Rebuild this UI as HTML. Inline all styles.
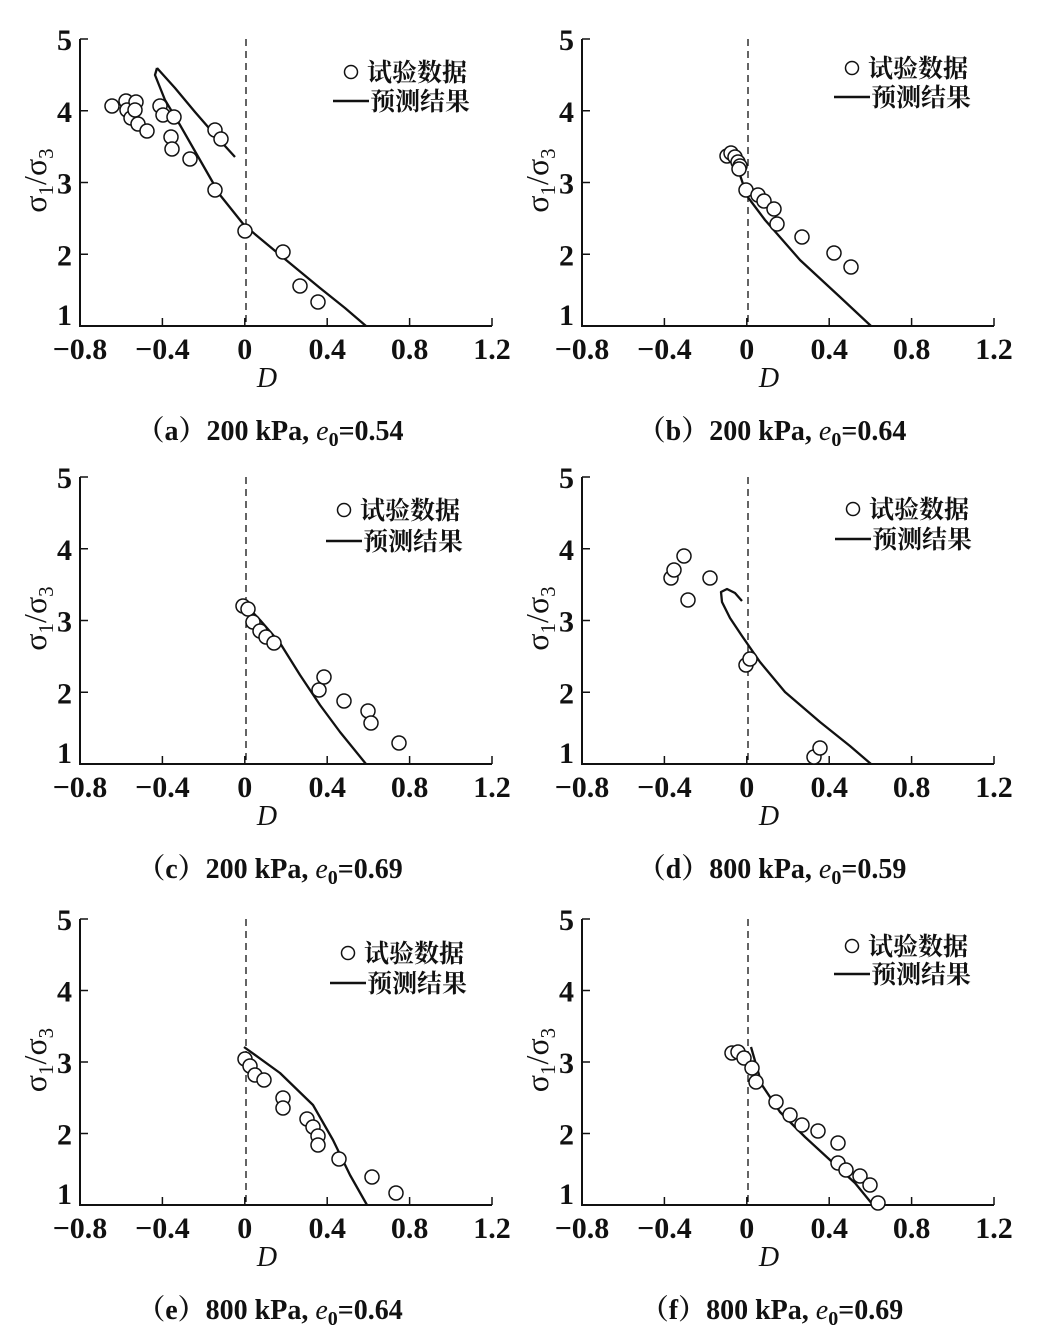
<!DOCTYPE html>
<html><head><meta charset="utf-8"><style>
html,body{margin:0;padding:0;background:#fff;}
svg{display:block}
text{font-family:"Liberation Serif","Noto Serif CJK SC",serif;fill:#111}
</style></head><body>
<svg id="s" width="1038" height="1334" viewBox="0 0 1038 1334" xmlns="http://www.w3.org/2000/svg"></svg>
<script>
const S=document.getElementById('s');let h='';
const P=[
 {L:80,T:39,B:326,cap:'a',capt:'200 kPa, ',e:'0.54',
  pts:[[112,106],[126,101],[127,110],[131,118],[136,102],[135,110],[138,124],[147,131],[160,106],[163,115],[174,117],[171,137],[172,149],[190,159],[215,190],[215,130],[221,139],[245,231],[283,252],[300,286],[318,302]],
  cur:[[[157,68],[175,88],[195,112],[215,135],[235,157]],[[157,68],[155,75],[165,100],[180,125],[200,160],[220,195],[244,225],[280,255],[320,288],[345,308],[366,326]]],
  leg:[351,72,333,101]},
 {L:582,T:39,B:326,cap:'b',capt:'200 kPa, ',e:'0.64',
  pts:[[727,156],[731,153],[735,157],[738,162],[740,166],[739,169],[746,190],[758,195],[764,201],[774,209],[777,224],[802,237],[834,253],[851,267]],
  cur:[[[735,158],[740,175],[747,196],[765,220],[800,260],[840,297],[871,326]]],
  leg:[852,68,834,97]},
 {L:80,T:477,B:764,cap:'c',capt:'200 kPa, ',e:'0.69',
  pts:[[243,606],[248,609],[253,622],[260,631],[266,637],[274,643],[319,690],[324,677],[344,701],[368,711],[371,723],[399,743]],
  cur:[[[244,603],[260,620],[280,643],[300,675],[320,705],[340,732],[366,764]]],
  leg:[344,510,326,541]},
 {L:582,T:477,B:764,cap:'d',capt:'800 kPa, ',e:'0.59',
  pts:[[671,578],[674,570],[684,556],[688,600],[710,578],[746,665],[750,659],[814,757],[820,748]],
  cur:[[[742,601],[735,593],[727,589],[721,592],[722,602],[730,618],[742,636],[760,662],[785,692],[820,722],[850,746],[871,764]]],
  leg:[853,509,835,539]},
 {L:80,T:919,B:1205,cap:'e',capt:'800 kPa, ',e:'0.64',
  pts:[[245,1059],[250,1066],[255,1075],[264,1080],[283,1098],[283,1108],[307,1119],[313,1127],[318,1136],[318,1145],[339,1159],[372,1177],[396,1193]],
  cur:[[[244,1047],[280,1073],[313,1105],[333,1140],[350,1175],[367,1205]]],
  leg:[348,953,330,983]},
 {L:582,T:919,B:1205,cap:'f',capt:'800 kPa, ',e:'0.69',
  pts:[[732,1053],[738,1052],[744,1058],[752,1068],[756,1082],[776,1102],[790,1115],[802,1125],[818,1131],[838,1143],[838,1163],[846,1170],[860,1176],[870,1185],[878,1203]],
  cur:[[[751,1047],[762,1085],[780,1112],[805,1137],[830,1160],[855,1183],[873,1205]]],
  leg:[852,946,834,974]}
];
P.forEach(p=>{
 const R=p.L+412, Z=p.L+166, u=(p.B-p.T)/4;
 h+=`<path d="M${p.L} ${p.T}V${p.B}H${R}" fill="none" stroke="#111" stroke-width="2"/>`;
 for(let i=1;i<=5;i++){const x=p.L+i*82.4;h+=`<line x1="${x}" y1="${p.B}" x2="${x}" y2="${p.B-8}" stroke="#111" stroke-width="1.5"/>`;}
 for(let i=1;i<=4;i++){const y=p.B-i*u;h+=`<line x1="${p.L}" y1="${y}" x2="${p.L+8}" y2="${y}" stroke="#111" stroke-width="1.5"/>`;}
 h+=`<line x1="${Z}" y1="${p.T}" x2="${Z}" y2="${p.B}" stroke="#111" stroke-width="1.3" stroke-dasharray="7,5"/>`;
 ['−0.8','−0.4','0','0.4','0.8','1.2'].forEach((t,i)=>{h+=`<text x="${p.L+i*82.4}" y="${p.B+33}" font-size="30" font-weight="bold" text-anchor="middle">${t}</text>`;});
 [1,2,3,4,5].forEach(v=>{const y=p.B-(v-1)*u+(v==1?-1:11);h+=`<text x="${p.L-8}" y="${y}" font-size="30" font-weight="bold" text-anchor="end">${v}</text>`;});
 const cy=(p.T+p.B)/2-2;
 h+=`<text transform="translate(${p.L-34},${cy}) rotate(-90)" font-size="32" text-anchor="middle">σ<tspan font-size="21" dy="7">1</tspan><tspan dy="-7">/σ</tspan><tspan font-size="21" dy="7">3</tspan></text>`;
 h+=`<text x="${p.L+187}" y="${p.B+61}" font-size="28" font-style="italic" text-anchor="middle">D</text>`;
 h+=`<text x="${p.L+190}" y="${p.B+114}" font-size="28" font-weight="bold" text-anchor="middle">（${p.cap}）${p.capt}<tspan font-style="italic" font-weight="normal">e</tspan><tspan font-size="20" dy="6">0</tspan><tspan dy="-6">=${p.e}</tspan></text>`;
 p.cur.forEach(c=>{h+=`<polyline points="${c.map(q=>q.join(',')).join(' ')}" fill="none" stroke="#111" stroke-width="2.3" stroke-linejoin="round"/>`;});
 p.pts.forEach(q=>{h+=`<circle cx="${q[0]}" cy="${q[1]}" r="7" fill="#fff" stroke="#111" stroke-width="1.5"/>`;});
 const g=p.leg;
 h+=`<circle cx="${g[0]}" cy="${g[1]}" r="6.5" fill="#fff" stroke="#111" stroke-width="1.5"/>`;
 h+=`<text x="${g[0]+16}" y="${g[1]+9}" font-size="25" font-weight="bold" font-family="Noto Sans CJK SC,sans-serif">试验数据</text>`;
 h+=`<line x1="${g[2]}" y1="${g[3]}" x2="${g[2]+36}" y2="${g[3]}" stroke="#111" stroke-width="2.5"/>`;
 h+=`<text x="${g[2]+37}" y="${g[3]+9}" font-size="25" font-weight="bold" font-family="Noto Sans CJK SC,sans-serif">预测结果</text>`;
});
S.innerHTML=h;
</script>
</body></html>
